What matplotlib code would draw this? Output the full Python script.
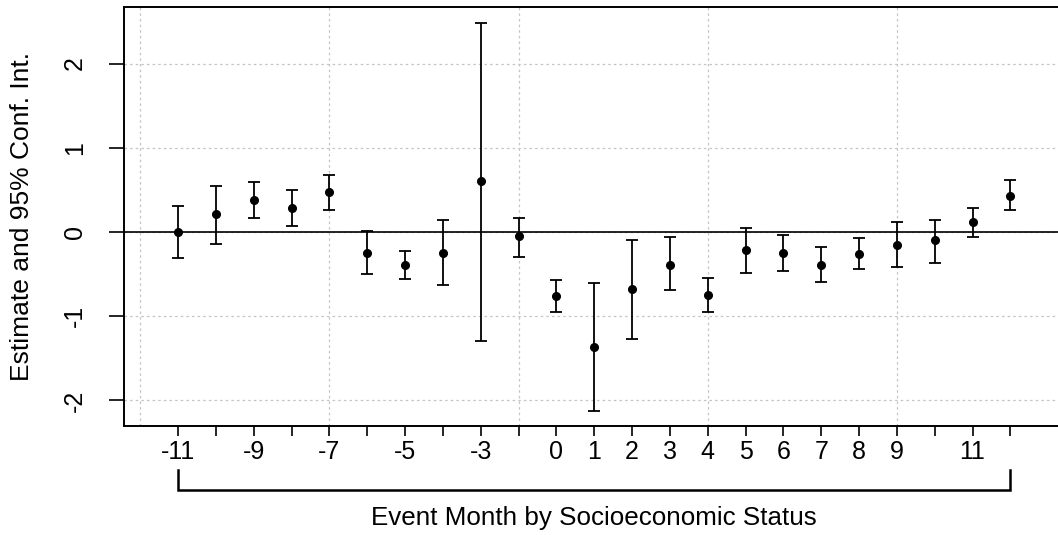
import numpy as np
import matplotlib
matplotlib.use('Agg')
from matplotlib import pyplot as plt
import matplotlib.transforms as mtransforms

plt.rcParams['font.family'] = ['Liberation Sans', 'DejaVu Sans']

# Event months (month -1 is the omitted reference period)
months = [-11, -10, -9, -8, -7, -6, -5, -4, -3, -2,
          0, 1, 2, 3, 4, 5, 6, 7, 8, 9, 10, 11, 12]
shown_labels = ['-11', '', '-9', '', '-7', '', '-5', '', '-3', '',
                '0', '1', '2', '3', '4', '5', '6', '7', '8', '9', '', '11', '']

# Estimates and 95% confidence bounds
estimate = [0.00, 0.21, 0.38, 0.29, 0.47, -0.25, -0.39, -0.25, 0.61, -0.05,
            -0.76, -1.37, -0.68, -0.39, -0.75, -0.21, -0.25, -0.39, -0.26, -0.16,
            -0.10, 0.12, 0.43]
upper = [0.31, 0.55, 0.59, 0.50, 0.68, 0.01, -0.23, 0.14, 2.48, 0.17,
         -0.57, -0.61, -0.10, -0.06, -0.54, 0.05, -0.04, -0.18, -0.07, 0.12,
         0.14, 0.29, 0.62]
lower = [-0.31, -0.14, 0.17, 0.07, 0.26, -0.50, -0.56, -0.63, -1.29, -0.30,
         -0.95, -2.13, -1.27, -0.69, -0.95, -0.49, -0.46, -0.59, -0.44, -0.42,
         -0.37, -0.06, 0.26]

y_ticks = [-2, -1, 0, 1, 2]

pos = np.arange(1, len(months) + 1)
est = np.array(estimate)
yerr = np.vstack([est - np.array(lower), np.array(upper) - est])

fig = plt.figure(figsize=(10.58, 5.35), dpi=100)
ax = fig.add_axes([0.1172, 0.2037, 0.8828, 0.7832])

# Dotted grid like R's grid()
for gx in [0, 5, 10, 15, 20]:
    ax.axvline(gx, color='#c4c4c4', linestyle=(0, (2, 2.5)), linewidth=0.9, zorder=0)
for gy in y_ticks:
    ax.axhline(gy, color='#c4c4c4', linestyle=(0, (2, 2.5)), linewidth=0.9, zorder=0)

ax.axhline(0, color='black', linewidth=1.2, zorder=1)

ax.errorbar(pos, est, yerr=yerr, fmt='o', color='black', markersize=5.5,
            elinewidth=1.3, capsize=4, capthick=1.3, zorder=3)

ax.set_xlim(-0.43, 24.26)
ax.set_ylim(-2.303, 2.671)

ax.set_xticks(pos)
ax.set_xticklabels(shown_labels, fontsize=18)
ax.set_yticks(y_ticks)
ax.set_yticklabels([str(v) for v in y_ticks], fontsize=18, rotation=90, va='center')
ax.tick_params(axis='x', length=7, width=1.2, pad=3)
ax.tick_params(axis='y', length=10.5, width=1.2, pad=16)

ax.spines['right'].set_visible(False)
for s in ['left', 'top', 'bottom']:
    ax.spines[s].set_linewidth(1.4)

ax.set_ylabel('Estimate and 95% Conf. Int.', fontsize=19)
ax.yaxis.set_label_coords(-0.096, 0.5)

# Bracket under the axis spanning all event months
trans = mtransforms.blended_transform_factory(ax.transData, ax.transAxes)
ax.plot([pos[0], pos[0], pos[-1], pos[-1]], [-0.105, -0.153, -0.153, -0.105],
        color='black', linewidth=1.8, transform=trans, clip_on=False,
        solid_joinstyle='miter')
ax.text((pos[0] + pos[-1]) / 2, -0.22, 'Event Month by Socioeconomic Status',
        transform=trans, ha='center', va='center', fontsize=18.7)

fig.savefig('out.png', dpi=100)
